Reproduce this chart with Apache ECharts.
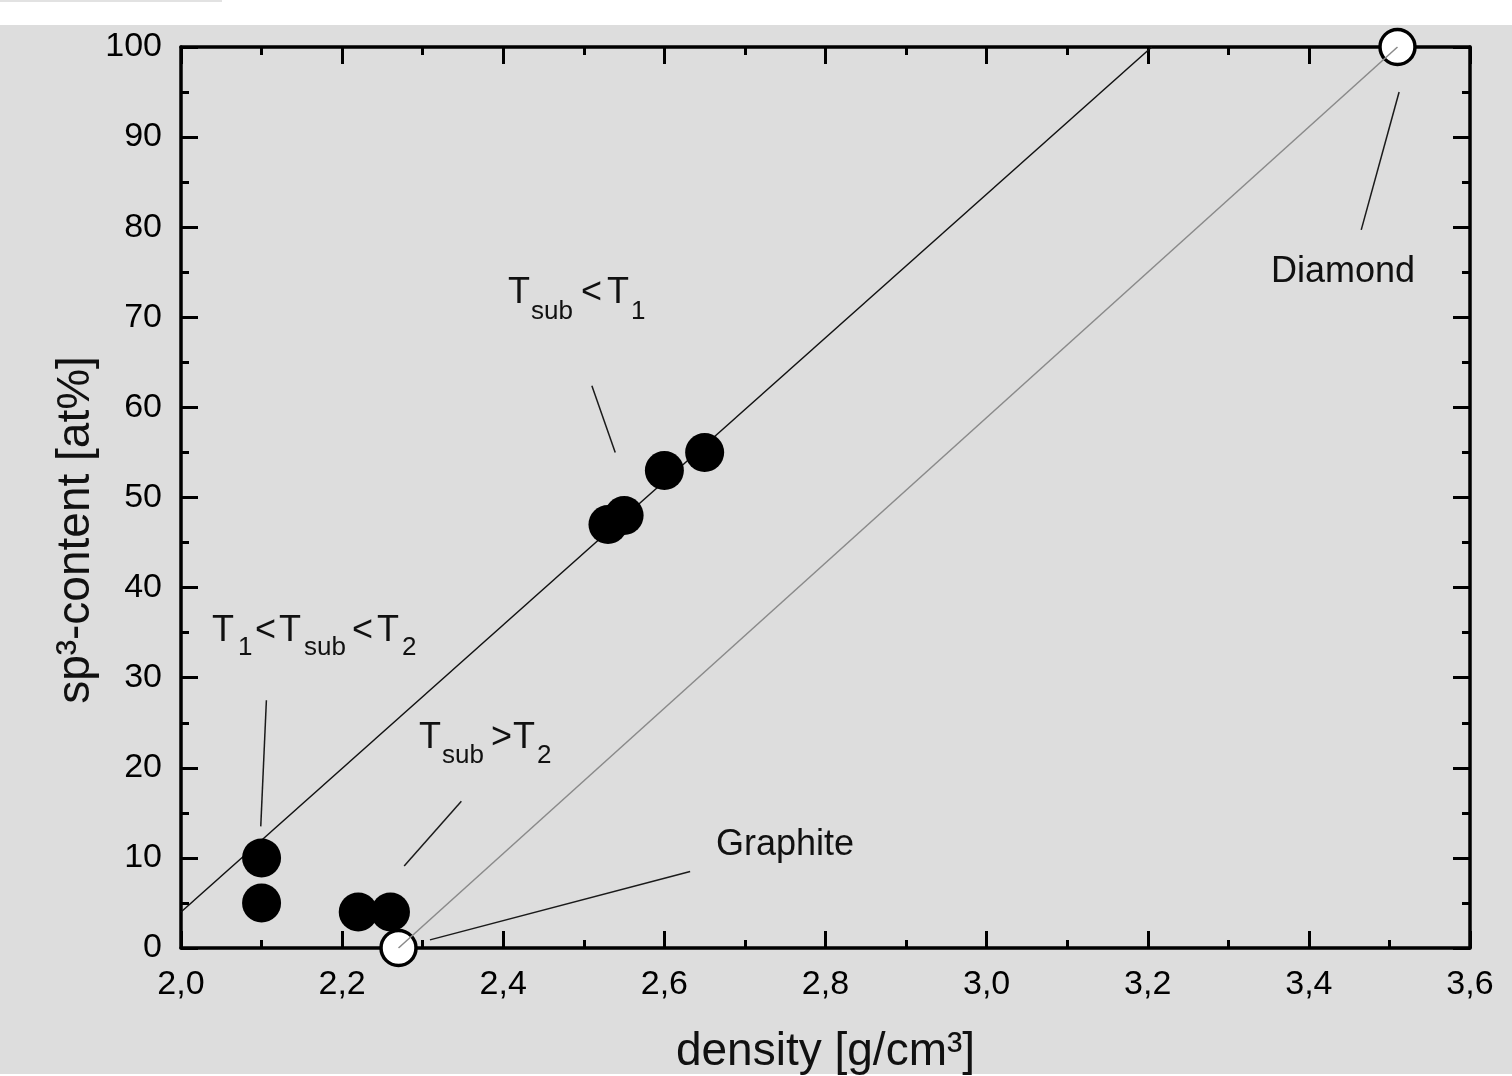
<!DOCTYPE html>
<html lang="en">
<head>
<meta charset="UTF-8">
<title>sp3 content vs density</title>
<script src="https://cdn.jsdelivr.net/npm/echarts@6/dist/echarts.min.js"></script>
<style>html,body{margin:0;padding:0;background:#fff;}</style>
</head>
<body>
<div id="main" style="width:1512px;height:1076px;"></div>
<script>
    // measured samples
    var density = [2.10, 2.10, 2.22, 2.26, 2.53, 2.55, 2.60, 2.65];
    var sp3 = [10, 5, 4, 4, 47, 48, 53, 55];
    // graphite / diamond reference points
    var refDensity = [2.27, 3.51];
    var refSp3 = [0, 100];
    // straight fit line through the samples
    var fitDensity = [2.0, 3.205];
    var fitSp3 = [4, 100];
    // axis ranges
    var xRange = [2.0, 3.6, 0.2];
    var yRange = [0, 100, 10];
    // leader lines for the labels [x1, y1, x2, y2]
    var leaderDiamond = [3.512, 95.0, 3.465, 79.7];
    var leaderLow = [2.510, 62.4, 2.539, 55.0];
    var leaderMid = [2.106, 27.5, 2.099, 13.5];
    var leaderHigh = [2.348, 16.3, 2.277, 9.1];
    var leaderGraphite = [2.632, 8.5, 2.309, 0.9];

    var FONT = 'Liberation Sans, Arial, sans-serif';
    var myChart = echarts.init(document.getElementById('main'));

    function pair(a, b) {
        var out = [];
        for (var i = 0; i < a.length; i++) out.push([a[i], b[i]]);
        return out;
    }
    function leader(l) {
        return {
            type: 'line', data: [[l[0], l[1]], [l[2], l[3]]], symbol: 'none', silent: true,
            lineStyle: {color: '#1a1a1a', width: 1.5}, z: 3
        };
    }
    function txt(x, y, s, size) {
        return {
            type: 'text', left: x, top: y - size / 2, z: 100,
            style: {text: s, font: size + 'px ' + FONT, fill: '#111'}
        };
    }

    var axisCommon = {
        axisLine: {show: true, onZero: false, lineStyle: {color: '#000', width: 3.5}},
        axisTick: {show: true, inside: true, length: 17, lineStyle: {color: '#000', width: 3}},
        minorTick: {show: true, splitNumber: 2, length: 8, lineStyle: {color: '#000', width: 3}},
        splitLine: {show: false}
    };

    var graphic = [
        {type: 'rect', shape: {x: 0, y: 25, width: 1512, height: 1049}, style: {fill: '#dddddd'}, z: -10, silent: true},
        {type: 'rect', shape: {x: 0, y: 0, width: 222, height: 2}, style: {fill: '#e2e2e2'}, z: -10, silent: true},
        {
            type: 'text', x: 76, y: 530, rotation: Math.PI / 2, z: 100,
            style: {text: 'sp³-content [at%]', font: '46px ' + FONT, fill: '#111', align: 'center', verticalAlign: 'middle'}
        },
        txt(1271, 272, 'Diamond', 36),
        txt(716, 845, 'Graphite', 36),
        // Tsub < T1
        txt(508, 293, 'T', 36), txt(531, 312, 'sub', 26), txt(581, 293, '<', 36),
        txt(607, 293, 'T', 36), txt(631, 312, '1', 26),
        // T1 < Tsub < T2
        txt(212, 631, 'T', 36), txt(238, 648, '1', 26), txt(255, 631, '<', 36),
        txt(279, 631, 'T', 36), txt(304, 648, 'sub', 26), txt(352, 631, '<', 36),
        txt(377, 631, 'T', 36), txt(402, 648, '2', 26),
        // Tsub > T2
        txt(419, 738, 'T', 36), txt(442, 756, 'sub', 26), txt(491, 738, '>', 36),
        txt(513, 738, 'T', 36), txt(537, 756, '2', 26)
    ];

    var option = {
        animation: false,
        backgroundColor: '#ffffff',
        textStyle: {fontFamily: FONT},
        graphic: graphic,
        grid: {left: 181, right: 42, top: 47, bottom: 128, outerBoundsMode: 'none', containLabel: false},
        xAxis: [
            echarts.util.merge({
                type: 'value', position: 'bottom', min: xRange[0], max: xRange[1], interval: xRange[2],
                name: 'density [g/cm³]', nameLocation: 'middle', nameGap: 81,
                nameTextStyle: {fontSize: 46, color: '#111', fontFamily: FONT},
                axisLabel: {
                    margin: 20, fontSize: 34, color: '#000', fontFamily: FONT,
                    formatter: function (v) { return v.toFixed(1).replace('.', ','); }
                }
            }, axisCommon, true),
            echarts.util.merge({
                type: 'value', position: 'top', min: xRange[0], max: xRange[1], interval: xRange[2],
                axisLabel: {show: false}
            }, axisCommon, true)
        ],
        yAxis: [
            echarts.util.merge({
                type: 'value', position: 'left', min: yRange[0], max: yRange[1], interval: yRange[2],
                axisLabel: {margin: 19, fontSize: 34, color: '#000', fontFamily: FONT}
            }, axisCommon, true),
            echarts.util.merge({
                type: 'value', position: 'right', min: yRange[0], max: yRange[1], interval: yRange[2],
                axisLabel: {show: false}
            }, axisCommon, true)
        ],
        series: [
            {
                type: 'line', data: pair(fitDensity, fitSp3), symbol: 'none', silent: true,
                lineStyle: {color: '#111', width: 1.5}, z: 2
            },
            {
                type: 'scatter', data: pair(density, sp3), symbol: 'circle', symbolSize: 39,
                itemStyle: {color: '#000', opacity: 1}, z: 4
            },
            {
                type: 'scatter', data: pair(refDensity, refSp3), symbol: 'circle', symbolSize: 35, clip: false,
                itemStyle: {color: '#fff', borderColor: '#000', borderWidth: 3.5, opacity: 1}, z: 5
            },
            {
                type: 'line', data: pair(refDensity, refSp3), symbol: 'none', silent: true,
                lineStyle: {color: '#8a8a8a', width: 1.5}, z: 6
            },
            leader(leaderDiamond),
            leader(leaderLow),
            leader(leaderMid),
            leader(leaderHigh),
            leader(leaderGraphite)
        ]
    };
    myChart.setOption(option);
</script>
</body>
</html>
